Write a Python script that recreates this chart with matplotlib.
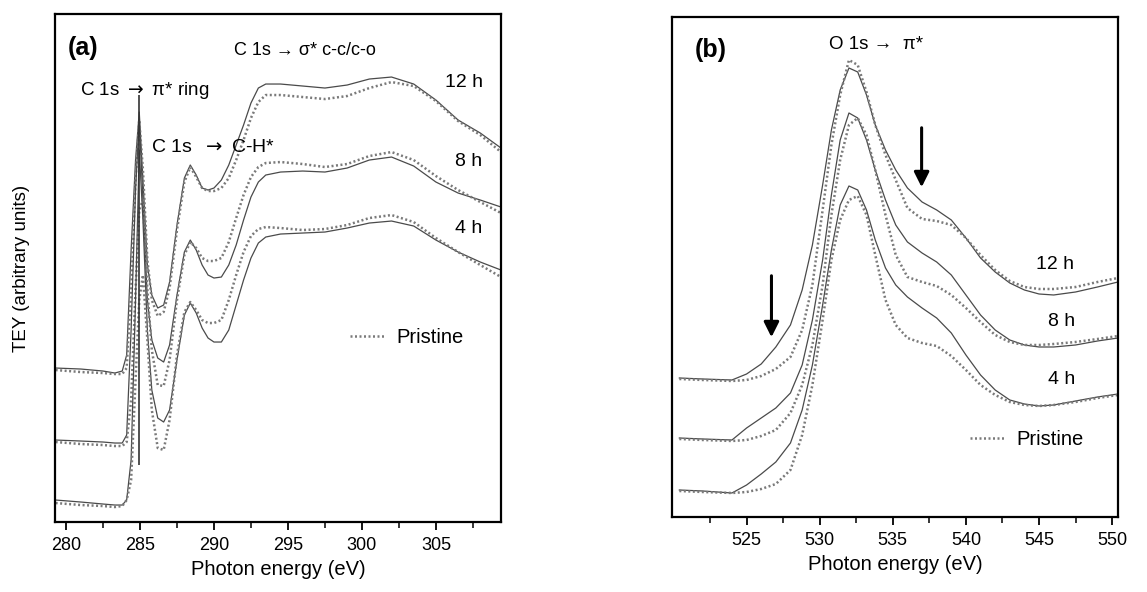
import matplotlib
matplotlib.use("Agg")
import matplotlib.pyplot as plt
from matplotlib.lines import Line2D

plt.rcParams['font.family'] = ['Liberation Sans', 'DejaVu Sans']

# ---- panel (a): C K-edge ----
energy_c = [279.3, 281.0, 282.5, 283.3, 283.8, 284.1, 284.4, 284.7, 284.95, 285.2,
            285.5, 285.8, 286.2, 286.6, 287.0, 287.5, 288.0, 288.4, 288.8, 289.2,
            289.6, 290.0, 290.5, 291.0, 291.5, 292.0, 292.5, 293.0, 293.5, 294.5,
            296.0, 297.5, 299.0, 300.5, 302.0, 303.5, 305.0, 306.5, 308.0, 309.4]

c_12h = [1.54, 1.53, 1.51, 1.49, 1.51, 1.67, 2.72, 3.62, 4.10, 3.42,
         2.57, 2.27, 2.14, 2.17, 2.40, 2.97, 3.44, 3.57, 3.47, 3.34,
         3.32, 3.34, 3.42, 3.57, 3.77, 3.97, 4.19, 4.34, 4.38, 4.38,
         4.36, 4.34, 4.37, 4.43, 4.45, 4.38, 4.22, 4.02, 3.89, 3.74]
c_12h_pristine = [1.52, 1.50, 1.49, 1.48, 1.48, 1.54, 2.32, 3.42, 4.02, 3.52,
                  2.62, 2.22, 2.06, 2.10, 2.34, 2.92, 3.40, 3.55, 3.45, 3.34,
                  3.31, 3.31, 3.34, 3.44, 3.62, 3.82, 4.04, 4.20, 4.27, 4.27,
                  4.25, 4.23, 4.26, 4.34, 4.40, 4.36, 4.21, 4.01, 3.87, 3.70]
c_8h = [0.82, 0.81, 0.80, 0.79, 0.79, 0.87, 1.92, 3.32, 4.02, 3.22,
        2.22, 1.82, 1.64, 1.60, 1.77, 2.27, 2.70, 2.82, 2.72, 2.57,
        2.47, 2.44, 2.45, 2.57, 2.77, 3.02, 3.25, 3.40, 3.47, 3.50,
        3.51, 3.50, 3.54, 3.62, 3.65, 3.56, 3.40, 3.29, 3.22, 3.15]
c_8h_pristine = [0.80, 0.78, 0.77, 0.76, 0.76, 0.80, 1.22, 2.32, 3.12, 3.22,
                 2.32, 1.72, 1.37, 1.36, 1.62, 2.22, 2.67, 2.80, 2.74, 2.64,
                 2.61, 2.61, 2.64, 2.80, 3.04, 3.27, 3.45, 3.55, 3.59, 3.60,
                 3.58, 3.55, 3.58, 3.66, 3.70, 3.62, 3.46, 3.32, 3.20, 3.09]
c_4h = [0.22, 0.20, 0.18, 0.17, 0.17, 0.22, 0.62, 2.22, 3.72, 3.02,
        1.92, 1.32, 1.04, 1.00, 1.12, 1.62, 2.07, 2.19, 2.09, 1.94,
        1.84, 1.80, 1.80, 1.92, 2.17, 2.42, 2.64, 2.79, 2.85, 2.88,
        2.89, 2.90, 2.94, 2.99, 3.01, 2.96, 2.82, 2.70, 2.60, 2.52]
c_4h_pristine = [0.19, 0.17, 0.16, 0.15, 0.16, 0.22, 0.42, 1.42, 2.22, 2.47,
                 1.82, 1.12, 0.74, 0.72, 1.02, 1.67, 2.10, 2.20, 2.12, 2.02,
                 1.99, 1.99, 2.02, 2.22, 2.47, 2.70, 2.86, 2.93, 2.95, 2.94,
                 2.92, 2.93, 2.97, 3.04, 3.07, 3.00, 2.84, 2.70, 2.57, 2.45]

# ---- panel (b): O K-edge ----
energy_o = [520.4, 522.0, 524.0, 525.0, 526.0, 527.0, 528.0, 528.8, 529.5, 530.2,
            530.8, 531.4, 532.0, 532.6, 533.2, 533.8, 534.5, 535.2, 536.0, 537.0,
            538.0, 539.0, 540.0, 541.0, 542.0, 543.0, 544.0, 545.0, 546.0, 547.5,
            549.0, 550.4]

o_12h = [1.39, 1.38, 1.37, 1.43, 1.53, 1.70, 1.92, 2.27, 2.72, 3.32,
         3.87, 4.27, 4.49, 4.45, 4.22, 3.92, 3.67, 3.47, 3.29, 3.15,
         3.07, 2.97, 2.79, 2.59, 2.45, 2.34, 2.27, 2.23, 2.22, 2.25,
         2.30, 2.35]
o_12h_pristine = [1.38, 1.37, 1.36, 1.37, 1.41, 1.48, 1.60, 1.87, 2.32, 3.07,
                  3.72, 4.22, 4.57, 4.52, 4.25, 3.92, 3.62, 3.37, 3.09, 2.98,
                  2.96, 2.92, 2.79, 2.62, 2.47, 2.36, 2.30, 2.28, 2.28, 2.30,
                  2.35, 2.39]
o_8h = [0.79, 0.78, 0.77, 0.89, 0.99, 1.09, 1.24, 1.52, 1.97, 2.57,
        3.22, 3.77, 4.04, 3.99, 3.77, 3.47, 3.17, 2.92, 2.75, 2.64,
        2.55, 2.42, 2.22, 2.02, 1.87, 1.77, 1.72, 1.70, 1.70, 1.72,
        1.76, 1.79]
o_8h_pristine = [0.78, 0.77, 0.76, 0.77, 0.81, 0.87, 1.04, 1.32, 1.72, 2.32,
                 3.02, 3.57, 3.92, 3.99, 3.82, 3.47, 3.02, 2.62, 2.40, 2.35,
                 2.31, 2.22, 2.09, 1.95, 1.82, 1.75, 1.72, 1.72, 1.73, 1.75,
                 1.78, 1.81]
o_4h = [0.27, 0.26, 0.24, 0.32, 0.43, 0.55, 0.74, 1.07, 1.52, 2.12,
        2.67, 3.12, 3.31, 3.27, 3.07, 2.77, 2.49, 2.32, 2.20, 2.09,
        1.99, 1.84, 1.62, 1.42, 1.27, 1.17, 1.13, 1.11, 1.12, 1.16,
        1.20, 1.23]
o_4h_pristine = [0.26, 0.25, 0.24, 0.25, 0.28, 0.33, 0.47, 0.82, 1.32, 1.97,
                 2.57, 2.97, 3.17, 3.21, 3.02, 2.62, 2.17, 1.92, 1.79, 1.74,
                 1.71, 1.61, 1.47, 1.32, 1.22, 1.15, 1.12, 1.11, 1.12, 1.15,
                 1.19, 1.22]

times = ['12 h', '8 h', '4 h']
c_treated = [c_12h, c_8h, c_4h]
c_pristine = [c_12h_pristine, c_8h_pristine, c_4h_pristine]
o_treated = [o_12h, o_8h, o_4h]
o_pristine = [o_12h_pristine, o_8h_pristine, o_4h_pristine]

c_ticks = [280, 285, 290, 295, 300, 305]
o_ticks = [525, 530, 535, 540, 545, 550]

solid_kw = dict(color='#4a4a4a', lw=0.9, ls='-')
dot_kw = dict(color='#7a7a7a', lw=1.8, ls=(0, (0.8, 1.0)))

fig = plt.figure(figsize=(11.47, 5.92), dpi=100)
ax1 = fig.add_axes([0.048, 0.1182, 0.3888, 0.8581])
ax2 = fig.add_axes([0.5859, 0.1267, 0.3888, 0.8446])


def style(ax, ticks, xlim, ylim):
    ax.set_xticks(ticks)
    minors = [t + 2.5 for t in ticks] + [ticks[0] - 2.5]
    ax.set_xticks([m for m in minors if xlim[0] < m < xlim[1]], minor=True)
    ax.set_yticks([])
    ax.set_xlim(*xlim)
    ax.set_ylim(*ylim)
    for s in ax.spines.values():
        s.set_linewidth(1.6)
    ax.tick_params(axis='x', which='major', direction='out', length=6, width=1.3,
                   labelsize=13, pad=5)
    ax.tick_params(axis='x', which='minor', direction='out', length=4, width=1.1)
    ax.set_xlabel('Photon energy (eV)', fontsize=14.5, labelpad=4)


for y1, y2 in zip(c_treated, c_pristine):
    ax1.plot(energy_c, y1, **solid_kw)
    ax1.plot(energy_c, y2, **dot_kw)
style(ax1, c_ticks, (279.26, 309.4), (0, 5.08))
ax1.set_ylabel('TEY (arbitrary units)', fontsize=13.5, labelpad=18)

ax1.vlines(284.9, 0.57, 4.27, color='#333333', lw=1.2)
ax1.text(280.14, 4.74, '(a)', fontsize=18, fontweight='bold', va='center')
ax1.text(296.15, 4.72, 'C 1s \u2192 \u03c3* c-c/c-o', fontsize=13, ha='center', va='center')
ax1.text(280.95, 4.32, 'C 1s $\\rightarrow$ \u03c0* ring', fontsize=13.5, va='center')
ax1.text(285.74, 3.75, 'C 1s  $\\rightarrow$ C-H*', fontsize=14, va='center')
for lab, yy in zip(times, [4.40, 3.61, 2.94]):
    ax1.text(305.6 if lab == '12 h' else 306.3, yy, lab, fontsize=14, va='center')
ax1.legend(handles=[Line2D([], [], **dot_kw)], labels=['Pristine'], frameon=False,
           loc='center left', bbox_to_anchor=(0.661, 0.364), fontsize=14.5,
           handlelength=1.8, handletextpad=0.5, borderpad=0, borderaxespad=0)

for y1, y2 in zip(o_treated, o_pristine):
    ax2.plot(energy_o, y1, **solid_kw)
    ax2.plot(energy_o, y2, **dot_kw)
style(ax2, o_ticks, (519.9, 550.4), (0, 5.0))

ax2.text(521.46, 4.67, '(b)', fontsize=18, fontweight='bold', va='center')
ax2.text(533.88, 4.72, 'O 1s \u2192  \u03c0*', fontsize=13.5, ha='center', va='center')
for lab, yy in zip(times, [2.52, 1.95, 1.37]):
    ax2.text(544.8 if lab == '12 h' else 545.6, yy, lab, fontsize=14, va='center')
ax2.legend(handles=[Line2D([], [], **dot_kw)], labels=['Pristine'], frameon=False,
           loc='center left', bbox_to_anchor=(0.668, 0.154), fontsize=14.5,
           handlelength=1.8, handletextpad=0.5, borderpad=0, borderaxespad=0)

arrow_kw = dict(arrowstyle='-|>,head_length=0.9,head_width=0.45', color='black', lw=2.2)
ax2.annotate('', xy=(536.97, 3.27), xytext=(536.97, 3.92), arrowprops=arrow_kw)
ax2.annotate('', xy=(526.7, 1.77), xytext=(526.7, 2.44), arrowprops=arrow_kw)

fig.savefig('out.png', dpi=100)
